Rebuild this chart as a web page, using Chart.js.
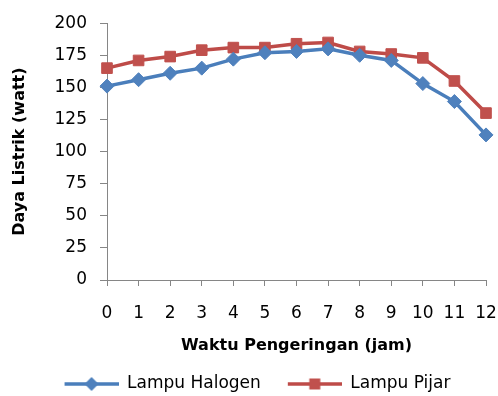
<!DOCTYPE html>
<html lang="id">
<head>
    <meta charset="UTF-8">
    <title>Daya Listrik</title>
    <script src="https://cdn.jsdelivr.net/npm/chart.js@4/dist/chart.umd.min.js"></script>
    <style>
        html, body {margin: 0; padding: 0; background: #fff; overflow: hidden;}
        #box {position: relative; width: 498px; height: 396px;}
    </style>
</head>
<body>
<div id="box"><canvas id="chart"></canvas></div>
<script>
    // data
    const jam = ['0', '1', '2', '3', '4', '5', '6', '7', '8', '9', '10', '11', '12'];
    const lampuHalogen = [151, 156, 161, 165, 172, 177, 178, 180, 175, 171, 153, 139, 113];
    const lampuPijar = [165, 171, 174, 179, 181, 181, 184, 185, 178, 176, 173, 155, 130];
    const yTicks = {min: 0, max: 200, step: 25};

    const blue = '#4A7EBB', blueMark = '#4F81BD';
    const red = '#BE4B48', redMark = '#C0504D';
    const axisGrey = '#868686';
    const fontName = '"DejaVu Sans", sans-serif';

    // legend icon: a short line with the marker in the middle
    function legendIcon(lineColor, markColor, shape) {
        const c = document.createElement('canvas');
        c.width = 71; c.height = 18;
        const g = c.getContext('2d');
        g.strokeStyle = lineColor; g.lineWidth = 3.5;
        g.beginPath(); g.moveTo(17, 9); g.lineTo(71, 9); g.stroke();
        g.fillStyle = markColor;
        g.beginPath();
        if (shape === 'diamond') {
            g.moveTo(44, 2); g.lineTo(51, 9); g.lineTo(44, 16); g.lineTo(37, 9);
        } else {
            g.rect(38.5, 3.5, 11, 11);
        }
        g.closePath(); g.fill();
        return c;
    }
    const icons = [legendIcon(blue, blueMark, 'diamond'), legendIcon(red, redMark, 'square')];

    new Chart(document.getElementById('chart'), {
        type: 'line',
        data: {
            labels: jam,
            datasets: [{
                label: 'Lampu Halogen',
                data: lampuHalogen,
                borderColor: blue,
                borderWidth: 3.5,
                pointStyle: 'rectRot',
                pointRadius: 7,
                pointBackgroundColor: blueMark,
                pointBorderColor: blueMark,
                pointBorderWidth: 1,
                tension: 0
            }, {
                label: 'Lampu Pijar',
                data: lampuPijar,
                borderColor: red,
                borderWidth: 3.5,
                pointStyle: 'rect',
                pointRadius: 7.5,
                pointBackgroundColor: redMark,
                pointBorderColor: redMark,
                pointBorderWidth: 1,
                tension: 0
            }]
        },
        options: {
            responsive: true,
            maintainAspectRatio: false,
            animation: false,
            layout: {padding: {left: 0, right: 0, top: 23, bottom: -6.5}},
            plugins: {
                tooltip: {enabled: false},
                legend: {
                    position: 'bottom',
                    labels: {
                        usePointStyle: true,
                        pointStyleWidth: 71,
                        padding: 10,
                        color: '#000',
                        font: {family: fontName, size: 17},
                        generateLabels: (chart) => {
                            const items = Chart.defaults.plugins.legend.labels.generateLabels(chart);
                            items.forEach((it, i) => { it.pointStyle = icons[i]; });
                            return items;
                        }
                    }
                }
            },
            scales: {
                x: {
                    type: 'category',
                    offset: false,
                    afterFit: (s) => { s.height = 85.5; s.paddingLeft = 0; s.paddingRight = 12; },
                    grid: {display: true, drawOnChartArea: false, drawTicks: true, tickLength: 6, color: axisGrey, offset: false},
                    border: {color: axisGrey, width: 1},
                    ticks: {color: '#000', padding: 17, maxRotation: 0, autoSkip: false, font: {family: fontName, size: 17}},
                    title: {
                        display: true,
                        text: 'Waktu Pengeringan (jam)',
                        color: '#000',
                        padding: {top: 4, bottom: 10},
                        font: {family: fontName, size: 16, weight: 'bold'}
                    }
                },
                y: {
                    min: yTicks.min,
                    max: yTicks.max,
                    afterFit: (s) => { s.width = 107; },
                    grid: {display: true, drawOnChartArea: false, drawTicks: true, tickLength: 7, color: axisGrey},
                    border: {color: axisGrey, width: 1},
                    ticks: {stepSize: yTicks.step, color: '#000', padding: 13, font: {family: fontName, size: 17}},
                    title: {
                        display: true,
                        text: 'Daya Listrik (watt)',
                        color: '#000',
                        padding: {top: 10, bottom: 4},
                        font: {family: fontName, size: 16, weight: 'bold'}
                    }
                }
            }
        }
    });
</script>
</body>
</html>
